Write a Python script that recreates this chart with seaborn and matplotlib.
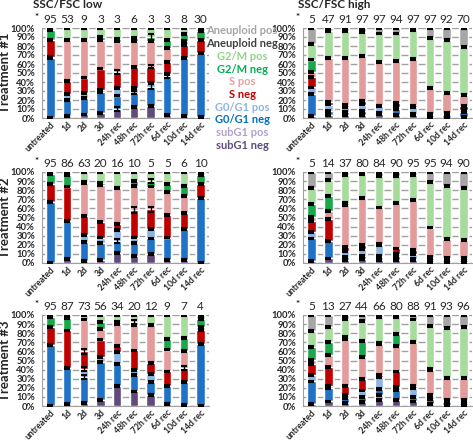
import numpy as np
import pandas as pd
import matplotlib
matplotlib.use("Agg")
import matplotlib.pyplot as plt
import seaborn as sns

conditions = ["untreated", "1d", "2d", "3d", "24h rec", "48h rec", "72h rec", "6d rec", "10d rec", "14d rec"]
phases = ["subG1 neg", "subG1 pos", "G0/G1 neg", "G0/G1 pos", "S neg", "S pos",
          "G2/M neg", "G2/M pos", "Aneuploid neg", "Aneuploid pos"]
phase_colors = ["#604a7b", "#b3a2c7", "#1f72c6", "#8db4e2", "#c00000", "#e39b9b",
                "#19a84a", "#a6dc9c", "#404040", "#a6a6a6"]
legend_colors = ["#604a7b", "#b3a2c7", "#0070c0", "#8db4e2", "#c00000", "#e6a0a0",
                 "#00b050", "#92d38a", "#404040", "#a6a6a6"]

# % of cells per phase (bottom -> top), one row per condition
t1_low = [
    [0.5, 0, 66.5, 0.5, 19, 0.5, 11, 2, 0, 0],
    [2, 0, 18, 7, 14, 46, 0, 13, 0, 0],
    [4, 0, 18, 6, 17, 42, 0, 13, 0, 0],
    [6, 0, 23, 2, 24, 32, 3, 10, 0, 0],
    [10, 0, 15, 8, 18, 34, 3, 12, 0, 0],
    [12, 0, 16, 5, 24, 29, 3, 11, 0, 0],
    [13, 0, 22, 4, 18, 29, 4, 10, 0, 0],
    [3, 0, 44, 2, 13, 16, 9, 13, 0, 0],
    [2, 0, 65, 0, 14, 5, 7, 7, 0, 0],
    [1, 0, 71, 0, 15, 0, 10, 3, 0, 0],
]
t1_high = [
    [2, 0, 25, 7, 12, 5, 14, 17, 0, 18],
    [3, 0, 5, 7, 3, 49, 0, 30, 0, 3],
    [3, 0, 4, 5, 3, 52, 0, 30, 0, 3],
    [3, 0, 5, 7, 4, 50, 0, 27, 0, 4],
    [4, 0, 2, 7, 1, 48, 0, 32, 0, 6],
    [3, 0, 7, 2, 5, 46, 0, 31, 0, 6],
    [3, 0, 2, 7, 2, 52, 0, 32, 0, 2],
    [1, 0, 2, 1, 1, 28, 0, 56, 0, 11],
    [0.5, 0, 2.5, 2, 1, 22, 0, 59, 0, 13],
    [1, 0, 6, 2, 4, 13, 0, 53, 0, 21],
]
t2_low = [
    [0.5, 0, 66.5, 0.5, 19, 0.5, 11, 2, 0, 0],
    [4, 0, 42, 0, 38, 0, 13, 3, 0, 0],
    [2, 0, 21, 8, 21, 36, 1, 11, 0, 0],
    [3, 0, 19, 6, 17, 41, 2, 12, 0, 0],
    [11, 0, 13, 12, 7, 39, 1, 17, 0, 0],
    [8, 0, 14, 6, 30, 27, 5, 10, 0, 0],
    [10, 0, 17, 10, 22, 25, 6, 10, 0, 0],
    [3, 0, 25, 0, 25, 25, 9, 13, 0, 0],
    [3, 0, 34, 0, 18, 19, 11, 15, 0, 0],
    [0.5, 0, 70.5, 0, 16, 0, 10, 3, 0, 0],
]
t2_high = [
    [2, 0, 25, 7, 12, 5, 14, 17, 0, 18],
    [5, 0, 19, 0, 24, 9, 17, 17, 0, 9],
    [3, 0, 4, 6, 5, 46, 2, 31, 0, 3],
    [4, 0, 4, 7, 5, 51, 0, 27, 0, 2],
    [3, 4, 1, 12, 1, 40, 0, 35, 0, 4],
    [3, 0, 5, 2, 6, 50, 0, 30, 0, 4],
    [3, 0, 1, 6, 4, 55, 0, 28, 0, 3],
    [1, 0, 2, 2, 2, 32, 0, 50, 0, 11],
    [1, 0, 2, 1, 2, 20, 0, 59, 0, 15],
    [1, 0, 2, 2, 1, 19, 0, 57, 0, 18],
]
t3_low = [
    [0.5, 0, 66.5, 0.5, 19, 0.5, 11, 2, 0, 0],
    [2, 0, 40, 0, 41, 0, 14, 3, 0, 0],
    [3, 0, 29, 9, 19, 35, 0, 5, 0, 0],
    [7, 0, 41, 6, 19, 12, 7, 8, 0, 0],
    [22, 0, 24, 13, 7, 24, 2, 8, 0, 0],
    [16, 0, 18, 6, 21, 28, 3, 8, 0, 0],
    [12, 0, 14, 9, 12, 42, 0, 11, 0, 0],
    [2, 0, 20, 0, 16, 24, 12, 26, 0, 0],
    [1, 0, 25, 0, 16, 18, 15, 25, 0, 0],
    [0.5, 0, 67.5, 0, 15, 4, 9, 4, 0, 0],
]
t3_high = [
    [2, 0, 25, 7, 12, 5, 14, 17, 0, 18],
    [5, 0, 15, 2, 21, 13, 14, 17, 0, 13],
    [3, 0, 6, 3, 10, 52, 2, 20, 0, 4],
    [4, 0, 6, 7, 13, 24, 17, 22, 0, 7],
    [7, 5, 7, 13, 2, 34, 1, 29, 0, 2],
    [7, 0, 11, 3, 17, 28, 13, 19, 0, 2],
    [5, 0, 5, 10, 2, 48, 0, 25, 0, 5],
    [2, 0, 6, 3, 1, 28, 1, 47, 0, 12],
    [1, 0, 3, 2, 1, 24, 0, 55, 0, 14],
    [1, 0, 2, 3, 1, 24, 0, 56, 0, 13],
]

# % of cells in the low / high SSC/FSC gate
n_t1_low = [95, 53, 9, 3, 3, 6, 3, 3, 8, 30]
n_t1_high = [5, 47, 91, 97, 97, 94, 97, 97, 92, 70]
n_t2_low = [95, 86, 63, 20, 16, 10, 5, 5, 6, 10]
n_t2_high = [5, 14, 37, 80, 84, 90, 95, 95, 94, 90]
n_t3_low = [95, 87, 73, 56, 34, 20, 12, 9, 7, 4]
n_t3_high = [5, 13, 27, 44, 66, 80, 88, 91, 93, 96]

# error bars: default SEM, bigger ones listed as (condition, phase): sem
sem_default = 1.0
sem_t1_low = {(6, 6): 3, (6, 2): 2.5, (4, 0): 2, (4, 4): 1.8, (6, 4): 1.8, (5, 2): 1.8, (7, 2): 2}
sem_t2_low = {(5, 4): 3, (6, 4): 3, (4, 2): 2, (2, 6): 1.5, (6, 6): 2}
sem_t3_low = {(2, 4): 2.5, (2, 2): 2, (2, 3): 2, (8, 4): 2, (5, 6): 2.5}

sns.set_style("white")
plt.rcParams["font.family"] = ["Lato", "DejaVu Sans"]

W, H = 473, 441
fig = plt.figure(figsize=(W / 100, H / 100), dpi=100)


def add_ax(x0, y0, x1, y1):
    return fig.add_axes([x0 / W, 1 - y1 / H, (x1 - x0) / W, (y1 - y0) / H])


def draw_panel(ax, heights, pcts, sems):
    df = pd.DataFrame(heights, index=conditions, columns=phases)
    cum = df.cumsum(axis=1)
    # stacked bars: draw cumulative totals from the top phase down
    for k in range(len(phases) - 1, -1, -1):
        sns.barplot(x=conditions, y=cum.iloc[:, k].values, color=phase_colors[k],
                    width=0.5, saturation=1, errorbar=None, ax=ax, zorder=2)
    xs, ys, es = [], [], []
    for i in range(len(conditions)):
        for k in range(len(phases)):
            if df.iloc[i, k] > 0:
                xs.append(i)
                ys.append(cum.iloc[i, k])
                es.append(sems.get((i, k), sem_default))
    ax.errorbar(xs, ys, yerr=es, fmt="none", ecolor="black", elinewidth=1,
                capsize=2.5, capthick=1.5, zorder=3)

    ax.set_xlim(-0.5, len(conditions) - 0.5)
    ax.set_ylim(0, 100)
    ax.set_yticks(range(0, 101, 10))
    ax.set_yticklabels([f"{v}%" for v in range(0, 101, 10)], fontsize=6.8, fontweight="bold")
    ax.set_xticks(range(len(conditions)))
    ax.set_xticklabels(conditions, rotation=45, ha="right", va="top",
                       rotation_mode="anchor", fontsize=6.2, fontweight="bold")
    ax.set_xticks(np.arange(-0.5, len(conditions), 1), minor=True)
    ax.tick_params(axis="x", which="major", length=0, pad=1.5)
    ax.tick_params(axis="x", which="minor", length=3, color="#a0a0a0", width=0.8)
    ax.tick_params(axis="y", length=3, color="#a0a0a0", width=0.8, pad=2)
    ax.set_xlabel("")
    ax.set_ylabel("")
    ax.yaxis.grid(True, color="#a0a0a0", lw=1)
    ax.set_axisbelow(True)
    for s in ["top", "right"]:
        ax.spines[s].set_visible(False)
    for s in ["left", "bottom"]:
        ax.spines[s].set_color("#a0a0a0")
        ax.spines[s].set_linewidth(0.8)
    for i, n in enumerate(pcts):
        ax.annotate(str(n), xy=(i, 1), xycoords=("data", "axes fraction"),
                    xytext=(0, 6), textcoords="offset points",
                    ha="center", va="center", fontsize=8.5)
    ax.annotate("*", xy=(0, 1), xycoords="axes fraction", xytext=(-4, 7.5),
                textcoords="offset points", ha="center", va="center",
                fontsize=7, fontweight="bold")


rows = [(28, 118), (172, 263), (315, 406)]
left_panels = [(t1_low, n_t1_low, sem_t1_low), (t2_low, n_t2_low, sem_t2_low), (t3_low, n_t3_low, sem_t3_low)]
right_panels = [(t1_high, n_t1_high, {}), (t2_high, n_t2_high, {}), (t3_high, n_t3_high, {})]

for r, (y0, y1) in enumerate(rows):
    axl = add_ax(42, y0, 209, y1)
    draw_panel(axl, *left_panels[r])
    axr = add_ax(303, y0, 472, y1)
    draw_panel(axr, *right_panels[r])
    fig.text(5 / W, 1 - ((y0 + y1) / 2) / H, f"Treatment #{r + 1}", rotation=90,
             ha="center", va="center", fontsize=9.5, fontweight="bold")

fig.text(33 / W, 1 - 5 / H, "SSC/FSC low", ha="left", va="center", fontsize=8.5, fontweight="bold")
fig.text(298 / W, 1 - 5 / H, "SSC/FSC high", ha="left", va="center", fontsize=8.5, fontweight="bold")

# legend as coloured labels between the two columns (top phase first)
for j, k in enumerate(range(len(phases) - 1, -1, -1)):
    fig.text(242 / W, 1 - (31 + 12.7 * j) / H, phases[k], color=legend_colors[k],
             ha="center", va="center", fontsize=8, fontweight="bold")

fig.savefig("out.png", dpi=100)
